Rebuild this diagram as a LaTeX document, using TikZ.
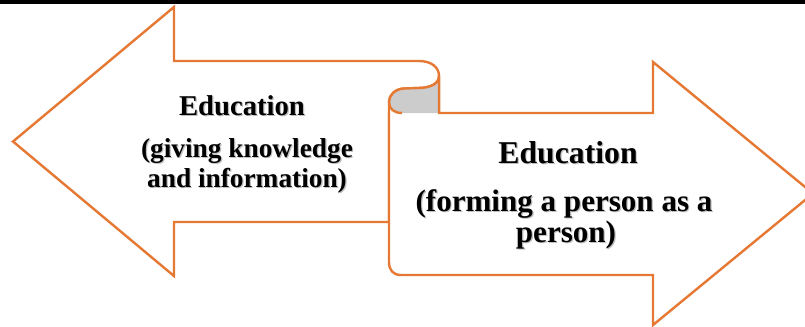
\documentclass[tikz,border=0pt]{standalone}
\usepackage{fontspec}
\setmainfont{Liberation Serif}
\definecolor{edgeorange}{RGB}{229,121,52}
\definecolor{curlgray}{RGB}{204,204,204}
% text with a soft drop shadow: name, x/y position, style, text
\newcommand\shadowlabel[4]{%
  \node[#3,text=black!45,opacity=.55] at ([shift={(1.2,1.2)}]#2) {#4};
  \node[#3] (#1) at (#2) {#4};}
\begin{document}
\begin{tikzpicture}[x=0.75pt,y=-0.75pt,
  outline/.style={draw=edgeorange,line width=1.8pt,line join=miter},
  leftlbl/.style={anchor=base,inner sep=0pt,font=\bfseries\fontsize{20.5}{24}\selectfont},
  lefthead/.style={leftlbl,font=\bfseries\fontsize{21.5}{25}\selectfont},
  rightlbl/.style={anchor=base,inner sep=0pt,font=\bfseries\fontsize{23.3}{27}\selectfont},
  righthead/.style={rightlbl,font=\bfseries\fontsize{23.8}{28}\selectfont}]
\useasboundingbox (0,0) rectangle (805,326);
\clip (0,0) rectangle (805,326);
\fill[white] (0,0) rectangle (805,326);
% black band along the top edge
\fill[black] (0,0) rectangle (805,4);

% key points of the two arrows
\coordinate (ltip) at (13,141.5);
\coordinate (rtip) at (813,193.5);

% left-pointing arrow, its shaft running into the scroll
\path[outline,fill=white]
  (389,222) -- (174,222) -- (174,276) -- (ltip) -- (174,7) -- (174,61) -- (419,61)
  .. controls (431,61) and (439,67) .. (439,76)
  -- (439,113) -- (389,113) -- cycle;
% right-pointing arrow with the rolled left edge
\path[outline,fill=white]
  (389,102) -- (389,262) .. controls (389,270) and (393,275) .. (401,275)
  -- (653,275) -- (653,325) -- (rtip) -- (653,62) -- (653,113) -- (439,113)
  -- (439,76) .. controls (439,84) and (430,88) .. (418,88)
  -- (404,88.5) .. controls (395,89) and (389,95) .. (389,102) -- cycle;
% shaded back of the curl
\fill[curlgray]
  (439,76) .. controls (439,84) and (430,88) .. (418,88)
  -- (404,88.5) .. controls (395,89) and (389,95) .. (389,102)
  .. controls (389,109) and (394,113) .. (402,113) -- (439,113) -- cycle;
\draw[outline]
  (439,113) -- (439,76) .. controls (439,84) and (430,88) .. (418,88)
  -- (404,88.5) .. controls (395,89) and (389,95) .. (389,102)
  .. controls (389,109) and (394,113) .. (402,113);
\draw[outline] (389,102) -- (389,262);
\draw[outline] (439,113) -- (653,113);

% labels
\shadowlabel{lA}{242,115}{lefthead}{Education}
\shadowlabel{lB}{247,157}{leftlbl}{(giving knowledge}
\shadowlabel{lC}{247,187}{leftlbl}{and information)}
\shadowlabel{rA}{568,163}{righthead}{Education}
\shadowlabel{rB}{564,211}{rightlbl}{(forming a person as a}
\shadowlabel{rC}{566,242}{rightlbl}{person)}
\end{tikzpicture}
\end{document}
